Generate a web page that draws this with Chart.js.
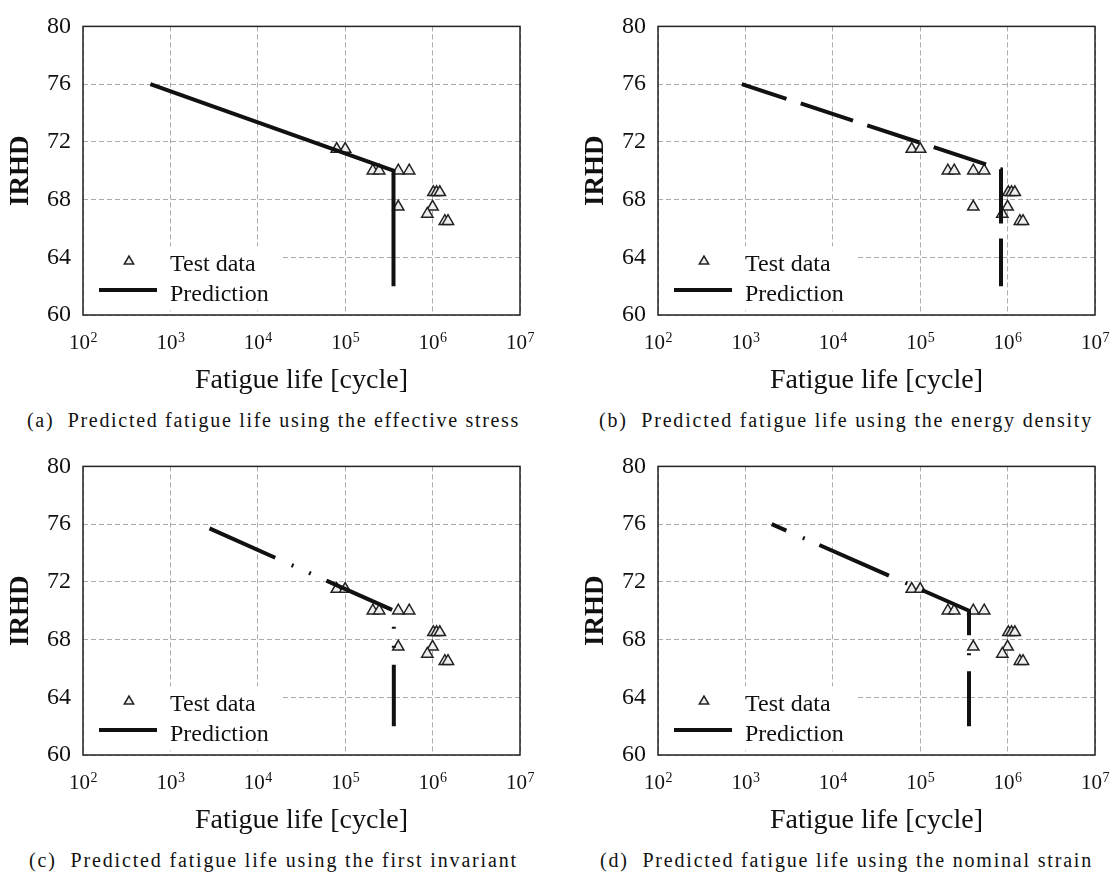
<!DOCTYPE html>
<html>
<head>
<meta charset="utf-8">
<script src="https://cdn.jsdelivr.net/npm/chart.js@4.4.1/dist/chart.umd.min.js"></script>
<style>
  html, body { margin: 0; padding: 0; background: #fff; width: 1118px; height: 873px; overflow: hidden; }
  .panel { position: absolute; width: 540px; height: 400px; }
  .caption { position: absolute; font-family: 'Liberation Serif', serif; font-size: 20px; line-height: 22px; color: #111; white-space: pre; }
</style>
</head>
<body>
<div class="panel" style="left:0;top:0"><canvas id="chartA" width="540" height="400"></canvas></div>
<div class="panel" style="left:575px;top:0"><canvas id="chartB" width="540" height="400"></canvas></div>
<div class="panel" style="left:0;top:440px"><canvas id="chartC" width="540" height="400"></canvas></div>
<div class="panel" style="left:575px;top:440px"><canvas id="chartD" width="540" height="400"></canvas></div>
<div class="caption" id="capA" style="left:27px;top:409px"></div>
<div class="caption" id="capB" style="left:599px;top:409px"></div>
<div class="caption" id="capC" style="left:29px;top:849px"></div>
<div class="caption" id="capD" style="left:600px;top:849px"></div>
<script>
// axis ticks
const xTicks = [1e2, 1e3, 1e4, 1e5, 1e6, 1e7];
const yTicks = [60, 64, 68, 72, 76, 80];

// test data (same in all four panels)
const testLife = [8.0e4, 1.0e5, 2.07e5, 2.45e5, 4.05e5, 5.4e5, 4.05e5, 1.02e6, 1.11e6, 1.21e6, 1.0e6, 8.7e5, 1.38e6, 1.5e6];
const testIRHD = [71.5, 71.5, 70, 70, 70, 70, 67.5, 68.5, 68.5, 68.5, 67.5, 67, 66.5, 66.5];

// predictions
const predLifeA = [590, 3.57e5, 3.57e5];
const predIRHDA = [76, 70, 62];
const predLifeB = [910, 8.4e5, 8.4e5];
const predIRHDB = [76, 70.1, 62];
const predLifeC = [2.8e3, 3.6e5, 3.6e5];
const predIRHDC = [75.7, 70, 62];
const predLifeD = [2.0e3, 3.62e5, 3.62e5];
const predIRHDD = [76, 70, 62];

const captions = [
  '(a)  Predicted fatigue life using the effective stress',
  '(b)  Predicted fatigue life using the energy density',
  '(c)  Predicted fatigue life using the first invariant',
  '(d)  Predicted fatigue life using the nominal strain'
];
const captionWidths = [493, 494, 489, 493];

const FONT = '"Liberation Serif", "Times New Roman", serif';
Chart.defaults.font.family = FONT;
Chart.defaults.color = '#111';

const toPoints = (xs, ys) => xs.map((x, i) => ({ x: x, y: ys[i] }));

function drawTriangle(ctx, x, y, r) {
  ctx.beginPath();
  for (let k = 0; k < 3; k++) {
    const a = k * 2 * Math.PI / 3;
    const px = x + Math.sin(a) * r, py = y - Math.cos(a) * r;
    if (k === 0) ctx.moveTo(px, py); else ctx.lineTo(px, py);
  }
  ctx.closePath();
  ctx.fillStyle = '#eeeeee';
  ctx.fill();
  ctx.lineWidth = 1.5;
  ctx.strokeStyle = '#222';
  ctx.stroke();
}

// white legend box, frame, legend and superscript x labels
const decorPlugin = {
  id: 'decor',
  beforeDatasetsDraw(chart) {
    const { ctx, chartArea: a } = chart;
    ctx.save();
    ctx.fillStyle = '#fff';
    ctx.fillRect(a.left + 1, a.top + 220, 196, 64);
    ctx.restore();
  },
  afterDatasetsDraw(chart) {
    const { ctx, chartArea: a } = chart;
    ctx.save();
    // frame
    ctx.strokeStyle = '#222';
    ctx.lineWidth = 1.5;
    ctx.setLineDash([]);
    ctx.strokeRect(a.left, a.top, a.right - a.left, a.bottom - a.top);
    // legend
    drawTriangle(ctx, a.left + 46, a.top + 235, 5.4);
    ctx.fillStyle = '#111';
    ctx.font = '24px ' + FONT;
    ctx.textBaseline = 'alphabetic';
    ctx.textAlign = 'left';
    ctx.fillText('Test data', a.left + 87, a.top + 245);
    ctx.beginPath();
    ctx.moveTo(a.left + 16, a.top + 263.5);
    ctx.lineTo(a.left + 74, a.top + 263.5);
    ctx.lineWidth = 4;
    ctx.strokeStyle = '#111';
    ctx.stroke();
    ctx.fillText('Prediction', a.left + 87, a.top + 274.5);
    // x tick labels with superscripts
    const xs = chart.scales.x;
    xTicks.forEach(v => {
      const px = xs.getPixelForValue(v);
      const exp = String(Math.round(Math.log10(v)));
      ctx.font = '21px ' + FONT;
      const w1 = ctx.measureText('10').width;
      ctx.font = '14px ' + FONT;
      const w2 = ctx.measureText(exp).width;
      const x0 = px - (w1 + w2) / 2;
      ctx.font = '21px ' + FONT;
      ctx.fillText('10', x0, 349);
      ctx.font = '14px ' + FONT;
      ctx.fillText(exp, x0 + w1 + 0.5, 341.5);
    });
    ctx.restore();
  }
};

function makeChart(id, predLife, predIRHD, dash, dashOffset) {
  return new Chart(document.getElementById(id), {
    type: 'scatter',
    data: {
      datasets: [
        {
          label: 'Prediction',
          data: toPoints(predLife, predIRHD),
          showLine: true,
          pointRadius: 0,
          borderColor: '#111',
          borderWidth: 4,
          borderDash: dash,
          borderDashOffset: dashOffset,
          borderCapStyle: 'butt',
          tension: 0,
          fill: false
        },
        {
          label: 'Test data',
          data: toPoints(testLife, testIRHD),
          pointStyle: 'triangle',
          pointRadius: 6.5,
          pointBackgroundColor: '#eeeeee',
          pointBorderColor: '#222',
          pointBorderWidth: 1.5
        }
      ]
    },
    options: {
      responsive: false,
      animation: false,
      layout: { padding: { top: 18, right: 20, left: 0, bottom: 0 } },
      plugins: { legend: { display: false }, tooltip: { enabled: false } },
      scales: {
        x: {
          type: 'logarithmic',
          min: 1e2,
          max: 1e7,
          afterBuildTicks: s => { s.ticks = xTicks.map(v => ({ value: v })); },
          afterFit: s => { s.height = 85; },
          ticks: { display: false },
          grid: { color: '#ababab', lineWidth: 1, drawTicks: false },
          border: { display: false, dash: [5, 3] },
          title: {
            display: true,
            text: 'Fatigue life [cycle]',
            font: { size: 28 },
            color: '#111',
            padding: { top: 0, bottom: 3 }
          }
        },
        y: {
          type: 'linear',
          min: 60,
          max: 80,
          afterBuildTicks: s => { s.ticks = yTicks.map(v => ({ value: v })); },
          afterFit: s => { s.width = 83; },
          ticks: { font: { size: 24 }, color: '#111', padding: 12 },
          grid: { color: '#ababab', lineWidth: 1, drawTicks: false },
          border: { display: false, dash: [5, 3] },
          title: {
            display: true,
            text: 'IRHD',
            font: { size: 27, weight: 'bold' },
            color: '#111',
            padding: { top: 5, bottom: 0 }
          }
        }
      }
    },
    plugins: [decorPlugin]
  });
}

makeChart('chartA', predLifeA, predIRHDA, [], 0);
makeChart('chartB', predLifeB, predIRHDB, [55, 15], 8);
makeChart('chartC', predLifeC, predIRHDC, [72, 18, 2, 17, 2, 17], 0);
makeChart('chartD', predLifeD, predIRHDD, [76, 18, 2, 16], 60);

// captions: spread letters to the measured width
const mctx = document.createElement('canvas').getContext('2d');
mctx.font = '20px ' + FONT;
['capA', 'capB', 'capC', 'capD'].forEach((id, i) => {
  const el = document.getElementById(id);
  const text = captions[i];
  el.textContent = text;
  const w = mctx.measureText(text).width;
  el.style.letterSpacing = ((captionWidths[i] - w) / text.length) + 'px';
});
</script>
</body>
</html>
